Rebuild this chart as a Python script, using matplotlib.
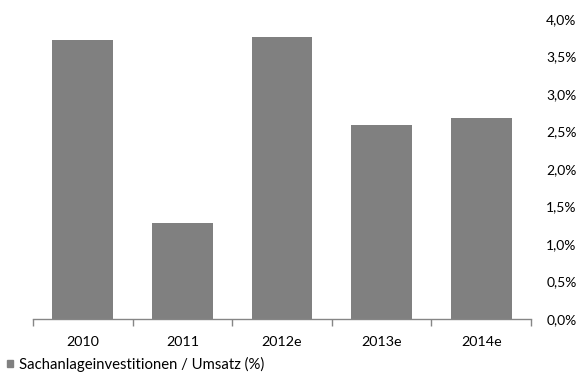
import matplotlib.pyplot as plt
from matplotlib.ticker import FuncFormatter
from matplotlib.patches import Patch

plt.rcParams['font.family'] = ['Lato', 'DejaVu Sans']

jahre = ["2010", "2011", "2012e", "2013e", "2014e"]
quote = [3.72, 1.28, 3.76, 2.59, 2.68]
serie = "Sachanlageinvestitionen / Umsatz (%)"

fig = plt.figure(figsize=(5.77, 3.79), dpi=100)
ax = fig.add_axes([33/577, 60/379, 498/577, 300/379])

ax.bar(range(len(jahre)), quote, width=0.61, color="#808080", zorder=2)
ax.set_xlim(-0.5, len(jahre) - 0.5)
ax.set_ylim(0, 4)

ax.yaxis.tick_right()
ax.set_yticks([i * 0.5 for i in range(9)])
ax.yaxis.set_major_formatter(FuncFormatter(lambda v, p: f"{v:.1f}%".replace(".", ",")))
ax.tick_params(axis="y", length=0, pad=11, labelsize=10, colors="#000000")

ax.set_xticks(range(len(jahre)))
ax.set_xticklabels(jahre)
ax.tick_params(axis="x", which="major", length=0, pad=12, labelsize=10.3)
ax.set_xticks([i - 0.5 for i in range(len(jahre) + 1)], minor=True)
ax.tick_params(axis="x", which="minor", length=5, width=1, color="#868686", direction="out")

for s in ["top", "left", "right"]:
    ax.spines[s].set_visible(False)
ax.spines["bottom"].set_color("#868686")
ax.spines["bottom"].set_linewidth(1)

fig.legend(handles=[Patch(color="#808080", label=serie)], loc="lower left",
           bbox_to_anchor=(0.0, 0.0), frameon=False, fontsize=10.7,
           handlelength=0.4, handleheight=0.4, handletextpad=0.4, borderaxespad=0.1)

fig.savefig("out.png", dpi=100)
